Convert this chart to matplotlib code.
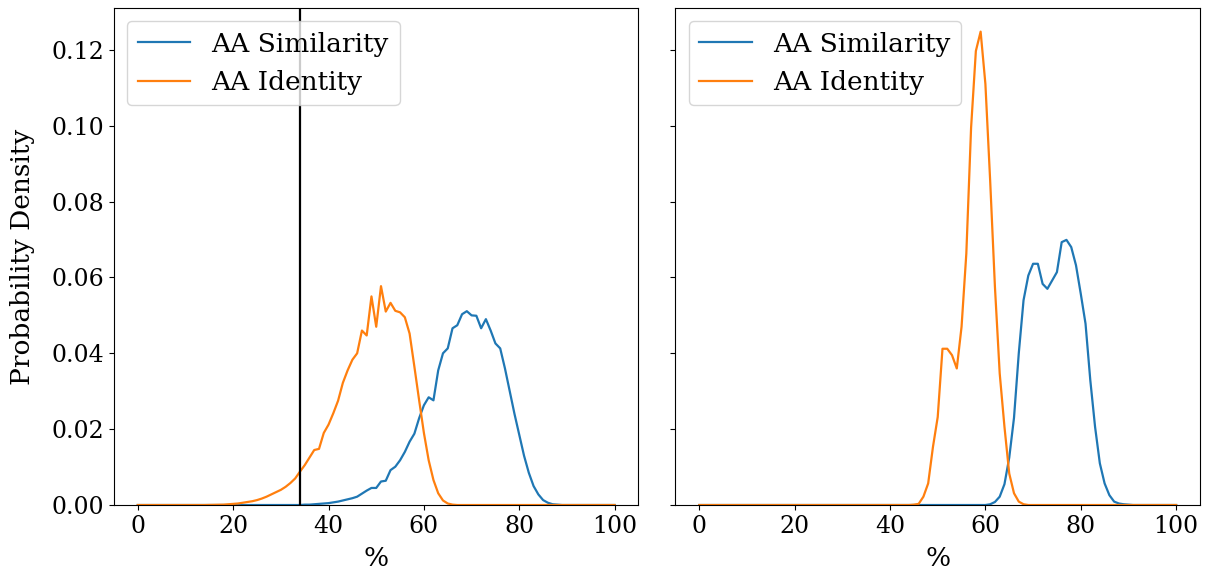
import matplotlib
matplotlib.use("Agg")
import matplotlib.pyplot as plt
import numpy as np

x_percent = list(range(101))

def pad(start, vals):
    out = [0.0] * 101
    for i, v in enumerate(vals):
        out[start + i] = v
    return out

# Left panel
similarity_left = pad(35, [0.0001, 0.0001, 0.0002, 0.0003, 0.0004, 0.0005, 0.0007, 0.0009, 0.0012, 0.0015,
                           0.0018, 0.0022, 0.0030, 0.0038, 0.0045, 0.0045, 0.0062, 0.0064, 0.0092, 0.0101,
                           0.0118, 0.0140, 0.0167, 0.0188, 0.0229, 0.0263, 0.0284, 0.0276, 0.0355, 0.0400,
                           0.0413, 0.0466, 0.0474, 0.0503, 0.0511, 0.0500, 0.0499, 0.0466, 0.0490, 0.0460,
                           0.0426, 0.0413, 0.0360, 0.0300, 0.0240, 0.0185, 0.0130, 0.0085, 0.0050, 0.0028,
                           0.0013, 0.0006, 0.0002, 0.0001])
identity_left = pad(15, [0.00003, 0.00005, 0.00008, 0.0001, 0.0002, 0.0003, 0.0004, 0.0006, 0.0008, 0.0010,
                         0.0013, 0.0017, 0.0022, 0.0028, 0.0034, 0.0040, 0.0048, 0.0058, 0.0070, 0.0088,
                         0.0105, 0.0125, 0.0145, 0.0148, 0.0190, 0.0212, 0.0242, 0.0275, 0.0322, 0.0355,
                         0.0383, 0.0400, 0.0460, 0.0447, 0.0550, 0.0470, 0.0577, 0.0510, 0.0533, 0.0512,
                         0.0508, 0.0495, 0.0452, 0.0365, 0.0276, 0.0190, 0.0118, 0.0066, 0.0031, 0.0012,
                         0.0004, 0.0001])

# Right panel
similarity_right = pad(61, [0.0002, 0.0008, 0.0022, 0.0055, 0.0125, 0.0230, 0.0400, 0.0540, 0.0605, 0.0636,
                            0.0636, 0.0583, 0.0570, 0.0592, 0.0614, 0.0693, 0.0699, 0.0680, 0.0632, 0.0557,
                            0.0478, 0.0329, 0.0206, 0.0110, 0.0057, 0.0026, 0.0009, 0.0004, 0.0002, 0.0001])
identity_right = pad(45, [0.0001, 0.0003, 0.0022, 0.0057, 0.0153, 0.0232, 0.0412, 0.0412, 0.0395, 0.0360,
                          0.0470, 0.0663, 0.0995, 0.1197, 0.1248, 0.1110, 0.0855, 0.0575, 0.0347, 0.0206,
                          0.0083, 0.0031, 0.0009, 0.0002])

threshold = 34
labels = ["AA Similarity", "AA Identity"]
x_ticks = [0, 20, 40, 60, 80, 100]

plt.rcParams['font.family'] = 'DejaVu Serif'
plt.rcParams['font.size'] = 17

fig, axes = plt.subplots(1, 2, figsize=(12.06, 5.7), dpi=100, sharey=True)
fig.subplots_adjust(left=0.0945, right=0.995, bottom=0.114, top=0.986, wspace=0.0705)

for ax, sim, ide in [(axes[0], similarity_left, identity_left), (axes[1], similarity_right, identity_right)]:
    ax.plot(x_percent, sim, color='#1f77b4', lw=1.6, label=labels[0])
    ax.plot(x_percent, ide, color='#ff7f0e', lw=1.6, label=labels[1])
    ax.set_xlabel('%', fontsize=19, labelpad=6)
    ax.set_xticks(x_ticks)
    ax.legend(loc='upper left', fontsize=19)

axes[0].axvline(threshold, color='k', lw=1.6)
axes[0].set_ylabel('Probability Density', fontsize=19, labelpad=12)
axes[0].set_ylim(bottom=0)

fig.savefig('out.png', dpi=100)
